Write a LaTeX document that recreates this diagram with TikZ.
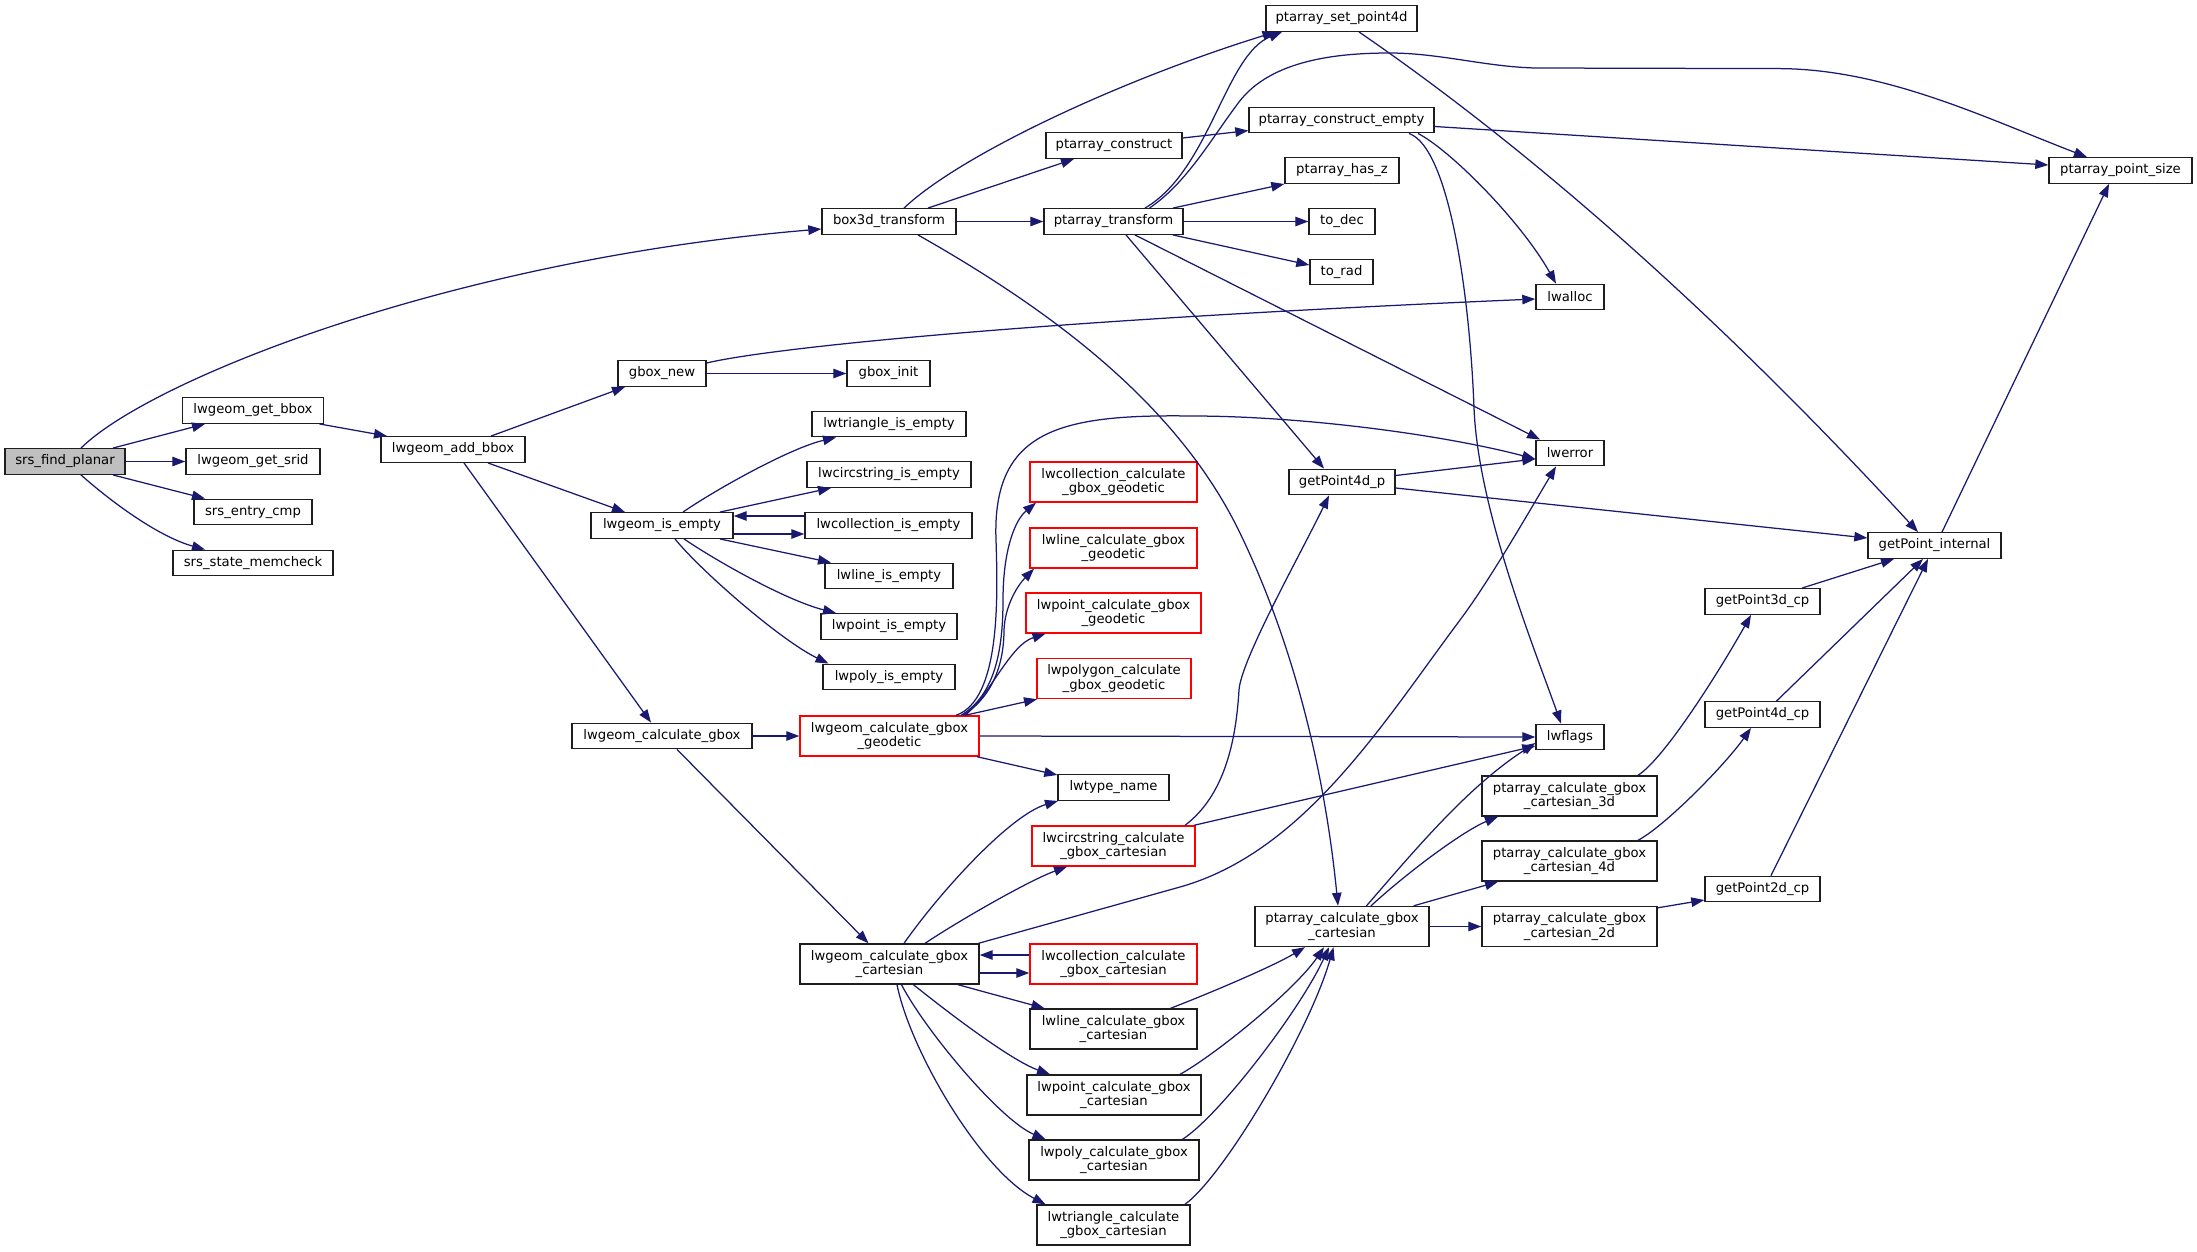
\documentclass[tikz,border=0pt]{standalone}
\usepackage{fontspec}
\setmainfont{DejaVu Sans}
\usetikzlibrary{arrows.meta}
\definecolor{edgec}{RGB}{25,25,112}
\definecolor{boxc}{RGB}{30,30,30}
\definecolor{startfill}{RGB}{191,191,191}
\begin{document}
\begin{tikzpicture}[x=1pt,y=-1pt,
  fn/.style={draw=boxc, line width=1.4pt, fill=white, inner sep=0pt, minimum height=25.5pt,
    font=\fontsize{13.2pt}{14.5pt}\selectfont, align=center, text=black},
  two/.style={minimum height=40pt},
  rfn/.style={fn, draw=red},
  mw/.style={minimum width=#1pt},
  ed/.style={draw=edgec, line width=1.25pt, -{Triangle[length=13pt,width=9.5pt]}}]
\useasboundingbox (0,0) rectangle (2197,1251);
% nodes
\node[fn, mw=120, fill=startfill] (planar) at (65,461.5) {srs\_find\_planar};
\node[fn, mw=141] (getbbox) at (253,410.5) {lwgeom\_get\_bbox};
\node[fn, mw=134] (getsrid) at (253,461.5) {lwgeom\_get\_srid};
\node[fn, mw=118] (entrycmp) at (253,512) {srs\_entry\_cmp};
\node[fn, mw=160] (memcheck) at (253,563) {srs\_state\_memcheck};
\node[fn, mw=144] (addbbox) at (453,449.5) {lwgeom\_add\_bbox};
\node[fn, mw=88] (gboxnew) at (662,373.5) {gbox\_new};
\node[fn, mw=142] (isempty) at (662,525.5) {lwgeom\_is\_empty};
\node[fn, mw=180] (calcgbox) at (662,736) {lwgeom\_calculate\_gbox};
\node[fn, mw=134] (box3d) at (889,221.5) {box3d\_transform};
\node[fn, mw=83] (gboxinit) at (888.5,373.5) {gbox\_init};
\node[fn, mw=154] (triempty) at (889,424) {lwtriangle\_is\_empty};
\node[fn, mw=164] (circempty) at (889,474.5) {lwcircstring\_is\_empty};
\node[fn, mw=167] (collempty) at (888.5,525.5) {lwcollection\_is\_empty};
\node[fn, mw=128] (lineempty) at (889,576) {lwline\_is\_empty};
\node[fn, mw=136] (pointempty) at (889,626.5) {lwpoint\_is\_empty};
\node[fn, mw=132] (polyempty) at (889,677) {lwpoly\_is\_empty};
\node[rfn, two, mw=179] (geodetic) at (889.5,736) {lwgeom\_calculate\_gbox\\\_geodetic};
\node[fn, two, mw=179] (cartesian) at (889.5,964) {lwgeom\_calculate\_gbox\\\_cartesian};
\node[fn, mw=136] (construct) at (1114,145.5) {ptarray\_construct};
\node[fn, mw=139] (transform) at (1113.5,221.5) {ptarray\_transform};
\node[rfn, two, mw=167] (collgeo) at (1113.5,482) {lwcollection\_calculate\\\_gbox\_geodetic};
\node[rfn, two, mw=167] (linegeo) at (1113.5,548) {lwline\_calculate\_gbox\\\_geodetic};
\node[rfn, two, mw=175] (pointgeo) at (1113.5,613) {lwpoint\_calculate\_gbox\\\_geodetic};
\node[rfn, two, mw=154] (polygeo) at (1114,678.5) {lwpolygon\_calculate\\\_gbox\_geodetic};
\node[fn, mw=111] (typename) at (1113.5,787.5) {lwtype\_name};
\node[rfn, two, mw=163] (circcart) at (1113.5,846) {lwcircstring\_calculate\\\_gbox\_cartesian};
\node[rfn, two, mw=167] (collcart) at (1113.5,964) {lwcollection\_calculate\\\_gbox\_cartesian};
\node[fn, two, mw=167] (linecart) at (1113.5,1029) {lwline\_calculate\_gbox\\\_cartesian};
\node[fn, two, mw=174] (pointcart) at (1114,1095) {lwpoint\_calculate\_gbox\\\_cartesian};
\node[fn, two, mw=170] (polycart) at (1114,1160) {lwpoly\_calculate\_gbox\\\_cartesian};
\node[fn, two, mw=153] (tricart) at (1113.5,1225) {lwtriangle\_calculate\\\_gbox\_cartesian};
\node[fn, mw=151] (setpoint) at (1341.5,18.5) {ptarray\_set\_point4d};
\node[fn, mw=185] (cempty) at (1341.5,120) {ptarray\_construct\_empty};
\node[fn, mw=114] (hasz) at (1342,170.5) {ptarray\_has\_z};
\node[fn, mw=66] (todec) at (1342,221.5) {to\_dec};
\node[fn, mw=63] (torad) at (1341.5,272) {to\_rad};
\node[fn, mw=106] (gp4dp) at (1342,482) {getPoint4d\_p};
\node[fn, two, mw=174] (ptcalc) at (1342,926.5) {ptarray\_calculate\_gbox\\\_cartesian};
\node[fn, mw=68] (lwalloc) at (1570,297) {lwalloc};
\node[fn, mw=68] (lwerror) at (1570,453) {lwerror};
\node[fn, mw=68] (lwflags) at (1570,737) {lwflags};
\node[fn, two, mw=175] (calc3d) at (1569.5,796) {ptarray\_calculate\_gbox\\\_cartesian\_3d};
\node[fn, two, mw=175] (calc4d) at (1569.5,861) {ptarray\_calculate\_gbox\\\_cartesian\_4d};
\node[fn, two, mw=175] (calc2d) at (1569.5,926.5) {ptarray\_calculate\_gbox\\\_cartesian\_2d};
\node[fn, mw=143] (ptsize) at (2120.5,170.5) {ptarray\_point\_size};
\node[fn, mw=133] (gpint) at (1934.5,545.5) {getPoint\_internal};
\node[fn, mw=115] (gp3d) at (1762.5,601.5) {getPoint3d\_cp};
\node[fn, mw=115] (gp4d) at (1762.5,714.5) {getPoint4d\_cp};
\node[fn, mw=115] (gp2d) at (1762.5,889) {getPoint2d\_cp};
% edges
\draw[ed] ([xshift=16pt]planar.north) .. controls (150,380) and (450,260) .. ([yshift=-7.5pt]box3d.west);
\draw[ed] ([xshift=48pt]planar.north) -- ([xshift=-48pt]getbbox.south);
\draw[ed] (planar.east) -- (getsrid.west);
\draw[ed] ([xshift=48pt]planar.south) -- ([xshift=-48pt]entrycmp.north);
\draw[ed] ([xshift=16pt]planar.south) .. controls (115,505) and (160,537) .. ([xshift=-48pt]memcheck.north);
\draw[ed] ([xshift=66.5pt]getbbox.south) -- ([xshift=-66pt]addbbox.north);
\draw[ed] ([xshift=38pt]addbbox.north) -- ([xshift=-37pt]gboxnew.south);
\draw[ed] ([xshift=35pt]addbbox.south) -- ([xshift=-37pt]isempty.north);
\draw[ed] ([xshift=11pt]addbbox.south) -- ([xshift=-11pt]calcgbox.north);
\draw[ed] ([yshift=10.5pt]gboxnew.east) .. controls (760,350) and (1000,322) .. ([yshift=-2pt]lwalloc.west);
\draw[ed] (gboxnew.east) -- (gboxinit.west);
\draw[ed] ([xshift=15pt]box3d.north) .. controls (960,155) and (1120,80) .. ([xshift=-66pt]setpoint.south);
\draw[ed] ([xshift=39pt]box3d.north) -- ([xshift=-40pt]construct.south);
\draw[ed] (box3d.east) -- (transform.west);
\draw[ed] ([xshift=29pt]box3d.south) .. controls (1045,307) and (1175,400) .. (1239,531) .. controls (1295.5,647) and (1325.4,778) .. ([xshift=-4pt]ptcalc.north);
\draw[ed] ([yshift=7.5pt]construct.east) -- ([yshift=-10.6pt]cempty.west);
\draw[ed] ([yshift=-6.5pt]cempty.east) -- ([yshift=5.5pt]ptsize.west);
\draw[ed] ([xshift=76.5pt]cempty.south) .. controls (1450,150) and (1520,220) .. ([xshift=-14pt]lwalloc.north);
\draw[ed] ([xshift=67.5pt]cempty.south) .. controls (1450,148) and (1470,300) .. (1474,408) .. controls (1478,510) and (1535,650) .. ([xshift=-9pt]lwflags.north);
\draw[ed] ([xshift=31.5pt]transform.north) .. controls (1210,170) and (1225,55) .. ([xshift=-59.5pt]setpoint.south);
\draw[ed] ([xshift=36pt]transform.north) .. controls (1187.5,182) and (1211,139) .. (1239,102) .. controls (1271,60) and (1337,53) .. (1390,53) .. controls (1439,53) and (1487,67) .. (1536,68) -- (1778,68.6) .. controls (1885,68.6) and (1987,118.7) .. ([xshift=-33.5pt]ptsize.north);
\draw[ed] ([xshift=59.5pt]transform.north) -- ([yshift=-13.5pt]hasz.west);
\draw[ed] (transform.east) -- (todec.west);
\draw[ed] ([xshift=59.5pt]transform.south) -- ([yshift=7pt]torad.west);
\draw[ed] ([xshift=12.5pt]transform.south) -- ([xshift=-18pt]gp4dp.north);
\draw[ed] ([xshift=21.5pt]transform.south) -- ([xshift=-30pt]lwerror.north);
\draw[ed] ([xshift=17.5pt]setpoint.south) .. controls (1560,170) and (1749,348.5) .. ([xshift=-16.5pt]gpint.north);
\draw[ed] ([xshift=7.5pt]gpint.north) -- ([xshift=-11.5pt]ptsize.south);
\draw[ed] ([yshift=6.5pt]gp4dp.east) -- ([yshift=-6pt]lwerror.west);
\draw[ed] ([yshift=-6pt]gp4dp.east) -- ([yshift=7.5pt]gpint.west);
\draw[ed] ([xshift=21pt]isempty.north) .. controls (715,490) and (790,448) .. ([xshift=-53pt]triempty.south);
\draw[ed] ([xshift=58pt]isempty.north) -- ([xshift=-58pt]circempty.south);
\draw[ed] ([yshift=9.5pt]collempty.west) -- ([yshift=9.5pt]isempty.east);
\draw[ed] ([yshift=-8.5pt]isempty.east) -- ([yshift=-8.5pt]collempty.west);
\draw[ed] ([xshift=58pt]isempty.south) -- ([xshift=-58pt]lineempty.north);
\draw[ed] ([xshift=22pt]isempty.south) .. controls (715,560) and (785,600) .. ([xshift=-53pt]pointempty.north);
\draw[ed] ([xshift=13pt]isempty.south) .. controls (700,570) and (780,640) .. ([xshift=-60.5pt]polyempty.north);
\draw[ed] (calcgbox.east) -- (geodetic.west);
\draw[ed] ([xshift=15pt]calcgbox.south) -- ([xshift=-21pt]cartesian.north);
\draw[ed] ([xshift=66.5pt]geodetic.north) .. controls (1000,700) and (998,600) .. (996,540) .. controls (992,430) and (1060,414) .. (1192,416) .. controls (1300,416) and (1440,434) .. ([yshift=-6pt]lwerror.west);
\draw[ed] ([xshift=71.5pt]geodetic.north) .. controls (995,695) and (1003,650) .. (1003,600) .. controls (1003,550) and (1015,520) .. ([xshift=-77.5pt]collgeo.south);
\draw[ed] ([xshift=73.5pt]geodetic.north) .. controls (995,695) and (1004,660) .. (1004,630) .. controls (1005,605) and (1018,585) .. ([xshift=-79.5pt]linegeo.south);
\draw[ed] ([xshift=75.5pt]geodetic.north) .. controls (990,695) and (1010,645) .. ([xshift=-68pt]pointgeo.south);
\draw[ed] ([xshift=75.5pt]geodetic.north) -- ([xshift=-77pt]polygeo.south);
\draw[ed] (geodetic.east) -- (lwflags.west);
\draw[ed] ([xshift=87.5pt]geodetic.south) -- ([yshift=12.5pt]typename.west);
\draw[ed] ([xshift=14.5pt]cartesian.north) .. controls (940,892) and (1010,815) .. ([xshift=-55.5pt]typename.south);
\draw[ed] ([xshift=35.5pt]cartesian.north) .. controls (960,920) and (1030,880) .. ([xshift=-46.5pt]circcart.south);
\draw[ed] ([xshift=89pt]cartesian.north) -- (1180,887) .. controls (1304,852) and (1383,723) .. (1460,620) .. controls (1490,580) and (1530,510) .. ([xshift=-14pt]lwerror.south);
\draw[ed] ([yshift=9pt]collcart.west) -- ([yshift=9pt]cartesian.east);
\draw[ed] ([yshift=-9pt]cartesian.east) -- ([yshift=-9pt]collcart.west);
\draw[ed] ([xshift=68.5pt]cartesian.south) -- ([xshift=-69pt]linecart.north);
\draw[ed] ([xshift=24pt]cartesian.south) .. controls (945,1010) and (1010,1060) .. ([xshift=-64pt]pointcart.north);
\draw[ed] ([xshift=12pt]cartesian.south) .. controls (925,1030) and (1000,1120) .. ([xshift=-68.5pt]polycart.north);
\draw[ed] ([xshift=7.5pt]cartesian.south) .. controls (910,1050) and (980,1170) .. ([xshift=-68pt]tricart.north);
\draw[ed] ([xshift=71.5pt]circcart.north) .. controls (1225,795) and (1236,740) .. (1239,690) .. controls (1241,660) and (1300,555) .. ([xshift=-13pt]gp4dp.south);
\draw[ed] ([xshift=80.5pt]circcart.north) -- ([yshift=-9pt]lwflags.west);
\draw[ed] ([xshift=57pt]linecart.north) .. controls (1200,997) and (1270,968) .. ([xshift=-37pt]ptcalc.south);
\draw[ed] ([xshift=66pt]pointcart.north) .. controls (1215,1055) and (1295,990) .. ([xshift=-18pt]ptcalc.south);
\draw[ed] ([xshift=68.5pt]polycart.north) .. controls (1220,1115) and (1300,1010) .. ([xshift=-13pt]ptcalc.south);
\draw[ed] ([xshift=71.5pt]tricart.north) .. controls (1225,1175) and (1310,1030) .. ([xshift=-8.5pt]ptcalc.south);
\draw[ed] ([xshift=24.5pt]ptcalc.north) .. controls (1418.5,845.7) and (1469,786) .. ([yshift=-6pt]lwflags.west);
\draw[ed] ([xshift=29pt]ptcalc.north) .. controls (1410,870) and (1465,830) .. ([xshift=-71.5pt]calc3d.south);
\draw[ed] ([xshift=71.7pt]ptcalc.north) -- ([xshift=-71.5pt]calc4d.south);
\draw[ed] (ptcalc.east) -- (calc2d.west);
\draw[ed] ([xshift=68.5pt]calc3d.north) .. controls (1665,758) and (1720,670) .. ([xshift=-11.5pt]gp3d.south);
\draw[ed] ([xshift=68.5pt]calc4d.north) .. controls (1665,826) and (1725,765) .. ([xshift=-11.5pt]gp4d.south);
\draw[ed] ([yshift=-2pt]calc2d.north east) -- ([yshift=-11pt]gp2d.west);
\draw[ed] ([xshift=39.5pt]gp3d.north) -- ([xshift=-40.5pt]gpint.south);
\draw[ed] ([xshift=14pt]gp4d.north) -- ([xshift=-11.5pt]gpint.south);
\draw[ed] ([xshift=8.5pt]gp2d.north) -- ([xshift=-6.5pt]gpint.south);
\end{tikzpicture}
\end{document}
